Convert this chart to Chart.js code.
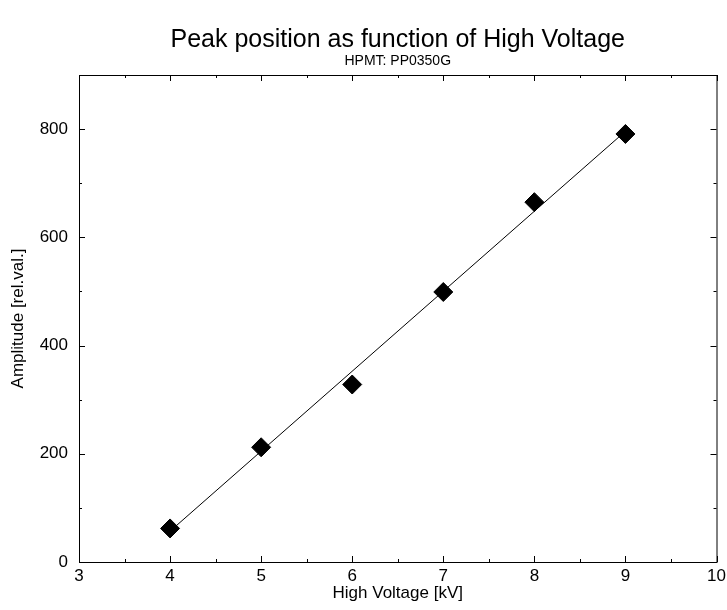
<!DOCTYPE html>
<html>
<head>
<meta charset="utf-8">
<script src="https://cdn.jsdelivr.net/npm/chart.js@4.4.1/dist/chart.umd.min.js"></script>
<style>
  html, body { margin: 0; padding: 0; background: #fff; }
</style>
</head>
<body>
<canvas id="myChart" width="727" height="610"></canvas>
<script>
// measured peak positions
const voltages = [4, 5, 6, 7, 8, 9];
const amplitudes = [62, 212, 328, 499, 665, 791];

const fitVoltages = [4, 9];
const fitAmplitudes = [57, 796];

// axis ticks
const xTicks = [3, 4, 5, 6, 7, 8, 9, 10];
const xMinorTicks = [3.5, 4.5, 5.5, 6.5, 7.5, 8.5, 9.5];
const yTicks = [0, 200, 400, 600, 800];
const yMinorTicks = [100, 300, 500, 700];

const FONT = 'Liberation Sans, Arial, Helvetica, sans-serif';

// frame around the plot + inward tick marks on all four sides
const frameTicks = {
    id: 'frameTicks',
    afterDatasetsDraw(chart) {
        const { ctx, chartArea: a, scales: { x, y } } = chart;
        ctx.save();
        ctx.strokeStyle = '#000';
        ctx.lineWidth = 1;
        ctx.strokeRect(a.left + 0.5, a.top + 0.5, a.right - a.left, a.bottom - a.top);
        ctx.beginPath();
        const xMark = (v, len) => {
            const px = Math.round(x.getPixelForValue(v)) + 0.5;
            ctx.moveTo(px, a.bottom); ctx.lineTo(px, a.bottom - len);
            ctx.moveTo(px, a.top); ctx.lineTo(px, a.top + len);
        };
        const yMark = (v, len) => {
            const py = Math.round(y.getPixelForValue(v)) + 0.5;
            ctx.moveTo(a.left, py); ctx.lineTo(a.left + len, py);
            ctx.moveTo(a.right, py); ctx.lineTo(a.right - len, py);
        };
        xTicks.forEach(v => xMark(v, 6));
        xMinorTicks.forEach(v => xMark(v, 3));
        yTicks.forEach(v => yMark(v, 6));
        yMinorTicks.forEach(v => yMark(v, 3));
        ctx.stroke();
        ctx.restore();
    }
};

const ctx = document.getElementById('myChart');
const myChart = new Chart(ctx, {
    type: 'scatter',
    data: {
        datasets: [{
            label: 'fit',
            data: fitVoltages.map((v, i) => ({ x: v, y: fitAmplitudes[i] })),
            showLine: true,
            borderColor: '#000',
            borderWidth: 1,
            pointRadius: 0
        },
        {
            label: 'peak position',
            data: voltages.map((v, i) => ({ x: v, y: amplitudes[i] })),
            pointStyle: 'rectRot',
            pointRadius: 9.5,
            backgroundColor: '#000',
            borderColor: '#000',
            borderWidth: 1
        }]
    },
    plugins: [frameTicks],
    options: {
        responsive: false,
        animation: false,
        layout: {
            padding: { left: 0, right: 10, top: 0, bottom: 0 }
        },
        plugins: {
            legend: { display: false },
            tooltip: { enabled: false },
            title: {
                display: true,
                text: 'Peak position as function of High Voltage',
                color: '#000',
                fullSize: false,
                font: { family: FONT, size: 25, weight: 'normal', lineHeight: 1 },
                padding: { top: 28, bottom: 0 }
            },
            subtitle: {
                display: true,
                text: 'HPMT: PP0350G',
                color: '#000',
                fullSize: false,
                font: { family: FONT, size: 14, weight: 'normal', lineHeight: 1 },
                padding: { top: 1, bottom: 7 }
            }
        },
        scales: {
            x: {
                type: 'linear',
                min: 3,
                max: 10,
                grid: { display: false, drawTicks: false },
                border: { display: false },
                afterBuildTicks: s => { s.ticks = xTicks.map(v => ({ value: v })); },
                afterFit: s => { s.height = 48; s.paddingLeft = 0; s.paddingRight = 0; },
                ticks: {
                    color: '#000',
                    padding: 4,
                    font: { family: FONT, size: 17 }
                },
                title: {
                    display: true,
                    text: 'High Voltage [kV]',
                    color: '#000',
                    font: { family: FONT, size: 17 },
                    padding: { top: 0, bottom: 6 }
                }
            },
            y: {
                min: 0,
                max: 900,
                grid: { display: false, drawTicks: false },
                border: { display: false },
                afterBuildTicks: s => { s.ticks = yTicks.map(v => ({ value: v })); },
                afterFit: s => { s.width = 79; },
                ticks: {
                    color: '#000',
                    padding: 11,
                    font: { family: FONT, size: 17 }
                },
                title: {
                    display: true,
                    text: 'Amplitude [rel.val.]',
                    color: '#000',
                    font: { family: FONT, size: 17 },
                    padding: { top: 8, bottom: 0 }
                }
            }
        }
    }
});
</script>
</body>
</html>
